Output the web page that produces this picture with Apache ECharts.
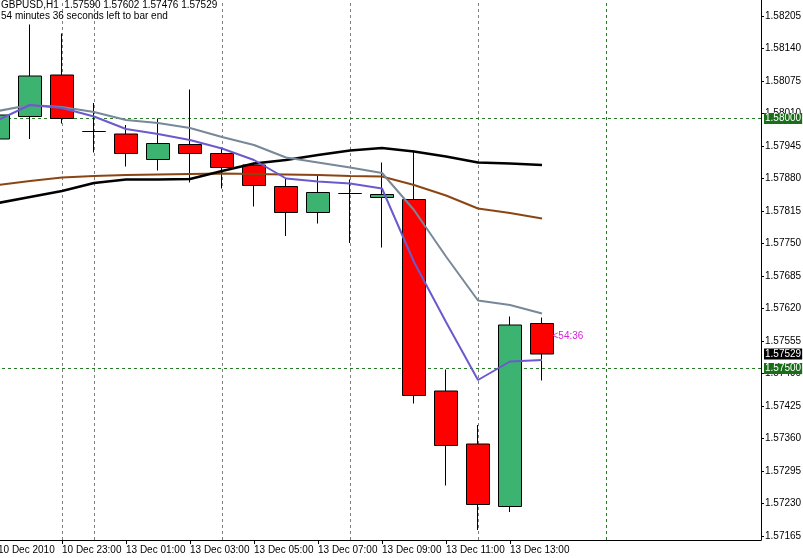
<!DOCTYPE html>
<html>
<head>
<meta charset="utf-8">
<title>GBPUSD,H1</title>
<script src="https://cdn.jsdelivr.net/npm/echarts@6/dist/echarts.min.js"></script>
<style>
  html, body { margin: 0; padding: 0; background: #fff; }
  #chart { width: 803px; height: 558px; }
</style>
</head>
<body>
<div id="chart"></div>
<script>
// H1 bars, index 0 is the partly hidden bar on the left edge
const barIndex = [0, 1, 2, 3, 4, 5, 6, 7, 8, 9, 10, 11, 12, 13, 14, 15, 16, 17]
const opens  = [1.57959, 1.58004, 1.58087, 1.57974, 1.57969, 1.57918, 1.57948, 1.57930, 1.57907, 1.57864, 1.57812, 1.57850, 1.57842, 1.57838, 1.57455, 1.57349, 1.57224, 1.57590]
const closes = [1.58007, 1.58085, 1.58000, 1.57974, 1.57930, 1.57950, 1.57930, 1.57902, 1.57866, 1.57812, 1.57852, 1.57850, 1.57848, 1.57446, 1.57346, 1.57228, 1.57587, 1.57529]
const lows   = [1.57945, 1.57959, 1.57990, 1.57932, 1.57904, 1.57896, 1.57872, 1.57860, 1.57824, 1.57765, 1.57790, 1.57751, 1.57742, 1.57430, 1.57266, 1.57177, 1.57213, 1.57476]
const highs  = [1.58020, 1.58188, 1.58170, 1.58031, 1.57987, 1.58000, 1.58058, 1.57942, 1.57912, 1.57881, 1.57887, 1.57878, 1.57912, 1.57936, 1.57498, 1.57387, 1.57604, 1.57602]

// moving averages
const maGray  = [1.58015, 1.58027, 1.58023, 1.58013, 1.57997, 1.57991, 1.57981, 1.57963, 1.57947, 1.57922, 1.57912, 1.57902, 1.57891, 1.57817, 1.57724, 1.57636, 1.57627, 1.57610]
const maSlate = [1.57997, 1.58027, 1.58021, 1.58004, 1.57979, 1.57969, 1.57957, 1.57940, 1.57917, 1.57880, 1.57874, 1.57870, 1.57860, 1.57713, 1.57593, 1.57477, 1.57514, 1.57517]
const maBlack = [1.57831, 1.57843, 1.57855, 1.57871, 1.57878, 1.57878, 1.57879, 1.57895, 1.57910, 1.57917, 1.57927, 1.57936, 1.57941, 1.57934, 1.57924, 1.57912, 1.57910, 1.57907]
const maBrown = [1.57867, 1.57875, 1.57882, 1.57885, 1.57887, 1.57888, 1.57889, 1.57890, 1.57889, 1.57888, 1.57887, 1.57885, 1.57884, 1.57867, 1.57846, 1.57820, 1.57811, 1.57800]

const priceTicks = [1.57165, 1.57230, 1.57295, 1.57360, 1.57425, 1.57490, 1.57555, 1.57620, 1.57685, 1.57750, 1.57815, 1.57880, 1.57945, 1.58010, 1.58075, 1.58140, 1.58205]
const timeTickIndex = [0, 2, 4, 6, 8, 10, 12, 14, 16]
const timeTickLabels = ['10 Dec 2010', '10 Dec 23:00', '13 Dec 01:00', '13 Dec 03:00', '13 Dec 05:00', '13 Dec 07:00', '13 Dec 09:00', '13 Dec 11:00', '13 Dec 13:00']
const gridBarIndex = [2, 3, 7, 11, 15]
const periodLineIndex = 19
const levelPrices = [1.58000, 1.57500]
const bidPrice = 1.57529
const timerPrice = 1.57565

const FONT = '"Liberation Sans", Arial, sans-serif'
const levelGreen = '#1a6e1a'

const chart = echarts.init(document.getElementById('chart'))

const lineSeries = (data, color, width) => ({
  type: 'line',
  data: barIndex.map((x, k) => [x, data[k]]),
  symbol: 'none',
  lineStyle: { color: color, width: width },
  silent: true,
  animation: false,
  z: 3
})

const priceBox = (price, bg) => ({
  show: true,
  position: 'end',
  distance: 3,
  formatter: price.toFixed(5),
  backgroundColor: bg,
  color: '#fff',
  padding: [1, 1, 0, 1],
  fontSize: 10,
  fontFamily: FONT
})

chart.setOption({
  animation: false,
  backgroundColor: '#fff',
  title: {
    text: 'GBPUSD,H1  1.57590 1.57602 1.57476 1.57529',
    subtext: '54 minutes 36 seconds left to bar end',
    left: 1,
    top: 0,
    padding: 0,
    itemGap: 0,
    textStyle: { fontSize: 10, fontWeight: 'normal', color: '#000', fontFamily: FONT, lineHeight: 11 },
    subtextStyle: { fontSize: 10, color: '#000', fontFamily: FONT, lineHeight: 10 }
  },
  grid: { left: -4, right: 42, top: 0, bottom: 18, outerBoundsMode: 'none', containLabel: false },
  xAxis: {
    type: 'value',
    min: -0.0625,
    max: 23.84375,
    axisLine: { onZero: false, lineStyle: { color: '#000', width: 1 } },
    axisTick: { customValues: timeTickIndex, length: 4, lineStyle: { color: '#000' } },
    axisLabel: {
      customValues: timeTickIndex,
      formatter: v => timeTickLabels[timeTickIndex.indexOf(v)],
      align: 'left',
      margin: 5,
      color: '#000',
      fontSize: 10,
      fontFamily: FONT
    },
    splitLine: { show: false }
  },
  yAxis: {
    type: 'value',
    position: 'right',
    min: 1.57157,
    max: 1.58237,
    axisLine: { show: true, onZero: false, lineStyle: { color: '#000', width: 1 } },
    axisTick: { show: true, customValues: priceTicks, length: 3, lineStyle: { color: '#000' } },
    axisLabel: {
      customValues: priceTicks,
      formatter: v => v.toFixed(5),
      margin: 4,
      color: '#000',
      fontSize: 10,
      fontFamily: FONT
    },
    splitLine: { show: false }
  },
  series: [
    {
      type: 'candlestick',
      data: barIndex.map((x, k) => [x, opens[k], closes[k], lows[k], highs[k]]),
      encode: { x: 0, y: [1, 2, 3, 4] },
      barWidth: 23,
      itemStyle: {
        color: '#3cb371',
        color0: '#ff0000',
        borderColor: '#000',
        borderColor0: '#000',
        borderColorDoji: '#000',
        borderWidth: 1
      },
      z: 2,
      markLine: {
        silent: true,
        symbol: ['none', 'none'],
        animation: false,
        precision: 5,
        z: 1,
        label: { show: false },
        data: [
          ...gridBarIndex.map(x => ({ xAxis: x, lineStyle: { color: '#808080', type: [3, 3], width: 1 } })),
          { xAxis: periodLineIndex, lineStyle: { color: '#2a7a2a', type: [3, 3], width: 1 } },
          ...levelPrices.map(p => ({
            yAxis: p,
            lineStyle: { color: '#2a7a2a', type: [3, 3], width: 1 },
            label: priceBox(p, levelGreen)
          })),
          { yAxis: bidPrice, lineStyle: { color: 'rgba(0,0,0,0)', width: 1 }, label: priceBox(bidPrice, '#000') }
        ]
      },
      markPoint: {
        symbol: 'rect',
        symbolSize: 1,
        silent: true,
        animation: false,
        itemStyle: { color: 'rgba(0,0,0,0)' },
        label: {
          show: true, position: 'right', distance: 10, formatter: '<54:36',
          color: '#d81fd8', fontSize: 10, fontFamily: FONT
        },
        data: [{ coord: [barIndex[barIndex.length - 1], timerPrice] }]
      }
    },
    lineSeries(maBrown, '#8b4513', 2),
    lineSeries(maBlack, '#000000', 2.5),
    lineSeries(maGray, '#778899', 2),
    lineSeries(maSlate, '#6a5acd', 2)
  ]
})
</script>
</body>
</html>
